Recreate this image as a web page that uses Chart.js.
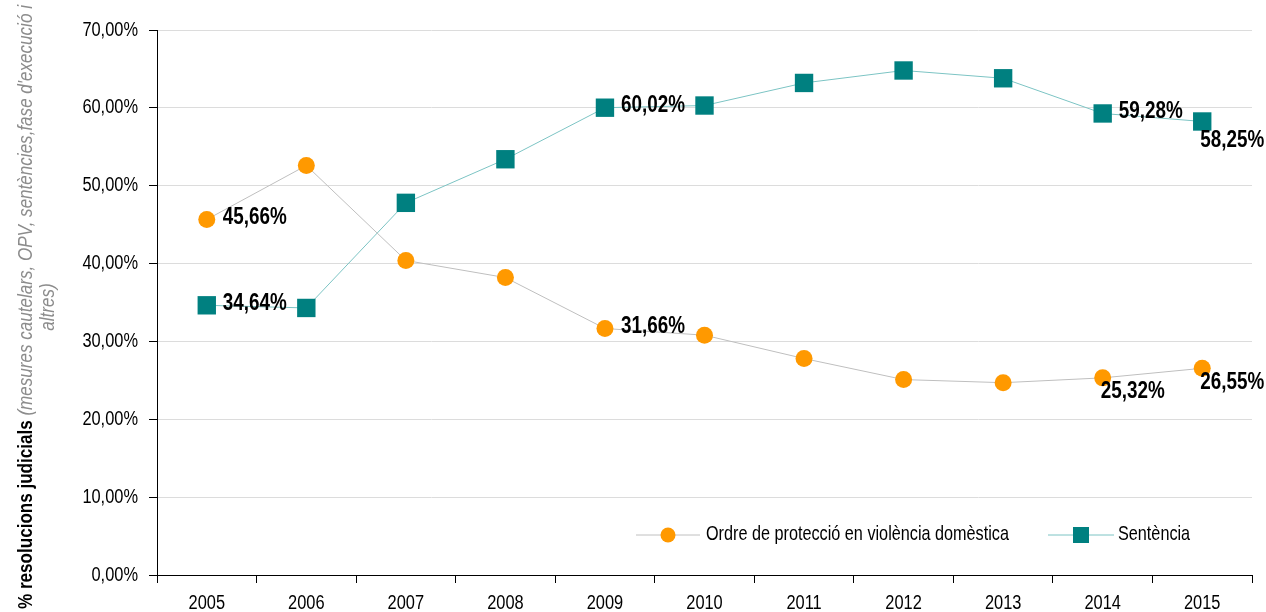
<!DOCTYPE html>
<html>
<head>
<meta charset="utf-8">
<script src="https://cdn.jsdelivr.net/npm/chart.js@4/dist/chart.umd.min.js"></script>
<style>
  html,body{margin:0;padding:0;background:#fff;}
  #wrap{width:1266px;height:612px;position:relative;}
</style>
</head>
<body>
<div id="wrap"><canvas id="c" width="1266" height="612"></canvas></div>
<script>
const years = ['2005','2006','2007','2008','2009','2010','2011','2012','2013','2014','2015'];
const ordreValues = [45.66, 52.6, 40.4, 38.2, 31.66, 30.8, 27.8, 25.1, 24.7, 25.32, 26.55];
const sentenciaValues = [34.64, 34.3, 47.8, 53.4, 60.02, 60.3, 63.2, 64.8, 63.8, 59.28, 58.25];
const seriesNames = ['Ordre de protecció en violència domèstica', 'Sentència'];
const yTicks = [0, 10, 20, 30, 40, 50, 60, 70];
// which points carry a value label, and where (r = right, b = below)
const ordreLabels = {0:'r', 4:'r', 9:'b', 10:'b'};
const sentenciaLabels = {0:'r', 4:'r', 9:'r', 10:'b'};

const FONT = "'Liberation Sans',Arial,sans-serif";
const NARROW = 0.82; // horizontal squeeze to mimic Arial Narrow
const ORANGE = '#FF9900';
const TEAL = '#008080';

function fmt(v){ return v.toFixed(2).replace('.', ',') + '%'; }

// draw text condensed horizontally; align: 'left' | 'center' | 'right'
function narrowText(ctx, txt, x, y, align){
  ctx.save();
  ctx.translate(x, y);
  ctx.scale(NARROW, 1);
  ctx.textAlign = align;
  ctx.fillText(txt, 0, 0);
  ctx.restore();
}

const tickLabelPlugin = {
  id: 'narrowTicks',
  afterDraw(chart){
    const ctx = chart.ctx;
    const xs = chart.scales.x, ys = chart.scales.y;
    ctx.save();
    ctx.fillStyle = '#000';
    ctx.font = "20px " + FONT;
    ctx.textBaseline = 'middle';
    ys.ticks.forEach((t, i) => {
      narrowText(ctx, fmt(t.value), xs.left - 19, ys.getPixelForTick(i), 'right');
    });
    xs.ticks.forEach((t, i) => {
      narrowText(ctx, xs.getLabelForValue(t.value), xs.getPixelForTick(i), 603, 'center');
    });
    ctx.restore();
  }
};

const labelPlugin = {
  id: 'valueLabels',
  afterDatasetsDraw(chart){
    const ctx = chart.ctx;
    ctx.save();
    ctx.font = "bold 23px " + FONT;
    ctx.fillStyle = '#000';
    ctx.textBaseline = 'middle';
    const sets = [ordreLabels, sentenciaLabels];
    sets.forEach((map, di) => {
      const meta = chart.getDatasetMeta(di);
      const data = chart.data.datasets[di].data;
      Object.keys(map).forEach(k => {
        const i = +k; const p = meta.data[i];
        const txt = fmt(data[i]);
        if (map[k] === 'r') {
          narrowText(ctx, txt, p.x + 16, p.y - 2, 'left');
        } else {
          narrowText(ctx, txt, p.x - 2, p.y + (di === 0 ? 14 : 19), 'left');
        }
      });
    });
    ctx.restore();
  }
};

const decorPlugin = {
  id: 'decor',
  afterDraw(chart){
    const ctx = chart.ctx;
    ctx.save();
    // y-axis title (rotated, two lines, mixed style)
    const cy = 307;
    ctx.save();
    ctx.translate(32, cy);
    ctx.rotate(-Math.PI/2);
    ctx.scale(NARROW, 1);
    ctx.textBaseline = 'alphabetic';
    const boldTxt = '% resolucions judicials ';
    const itTxt = "(mesures cautelars, OPV, sentències,fase d'execució i";
    ctx.font = "bold 20.8px " + FONT;
    const wb = ctx.measureText(boldTxt).width;
    ctx.font = "italic 20.8px " + FONT;
    const wi = ctx.measureText(itTxt).width;
    const total = wb + wi;
    const x0 = -total/2;
    ctx.font = "bold 20.8px " + FONT;
    ctx.fillStyle = '#000';
    ctx.textAlign = 'left';
    ctx.fillText(boldTxt, x0, 0);
    ctx.font = "italic 20.8px " + FONT;
    ctx.fillStyle = '#8c8c8c';
    ctx.fillText(itTxt, x0 + wb, 0);
    ctx.textAlign = 'center';
    ctx.fillText('altres)', 0, 22);
    ctx.restore();

    // legend inside plot area
    const ly = 535;
    ctx.font = "19.8px " + FONT;
    ctx.textBaseline = 'middle';
    // item 1
    ctx.strokeStyle = '#c0c0c0'; ctx.lineWidth = 1;
    ctx.beginPath(); ctx.moveTo(636, ly); ctx.lineTo(700, ly); ctx.stroke();
    ctx.fillStyle = ORANGE;
    ctx.beginPath(); ctx.arc(668, ly, 7.5, 0, Math.PI*2); ctx.fill();
    ctx.fillStyle = '#000';
    narrowText(ctx, seriesNames[0], 706, ly, 'left');
    // item 2
    ctx.strokeStyle = '#7cc4c4';
    ctx.beginPath(); ctx.moveTo(1048, ly); ctx.lineTo(1114, ly); ctx.stroke();
    ctx.fillStyle = TEAL;
    ctx.fillRect(1081 - 8, ly - 8, 16, 16);
    ctx.fillStyle = '#000';
    narrowText(ctx, seriesNames[1], 1118, ly, 'left');
    ctx.restore();
  }
};

new Chart(document.getElementById('c'), {
  type: 'line',
  data: {
    labels: years,
    datasets: [
      {
        label: seriesNames[0],
        data: ordreValues,
        borderColor: '#bfbfbf',
        borderWidth: 1,
        backgroundColor: ORANGE,
        pointBackgroundColor: ORANGE,
        pointBorderColor: ORANGE,
        pointStyle: 'circle',
        pointRadius: 8.5,
        pointBorderWidth: 0,
        tension: 0
      },
      {
        label: seriesNames[1],
        data: sentenciaValues,
        borderColor: '#7cc4c4',
        borderWidth: 1,
        backgroundColor: TEAL,
        pointBackgroundColor: TEAL,
        pointBorderColor: TEAL,
        pointStyle: 'rect',
        pointRadius: 13,
        pointBorderWidth: 0,
        tension: 0
      }
    ]
  },
  options: {
    responsive: false,
    animation: false,
    events: [],
    layout: { padding: { top: 30, right: 14, left: 0, bottom: 0 } },
    plugins: { legend: { display: false }, tooltip: { enabled: false } },
    scales: {
      x: {
        offset: true,
        grid: { offset: true, drawOnChartArea: false, drawTicks: true, tickLength: 8, tickColor: '#000', lineWidth: 1 },
        border: { color: '#000', width: 1 },
        ticks: { display: false, autoSkip: false, maxRotation: 0 },
        afterFit(s){ s.height = 37; }
      },
      y: {
        min: 0, max: 70,
        afterBuildTicks(s){ s.ticks = yTicks.map(v => ({ value: v })); },
        grid: { color: '#dcdcdc', lineWidth: 1, drawTicks: true, tickLength: 8, tickColor: '#000' },
        border: { color: '#000', width: 1 },
        ticks: { display: false },
        afterFit(s){ s.width = 157; }
      }
    }
  },
  plugins: [labelPlugin, tickLabelPlugin, decorPlugin]
});
</script>
</body>
</html>
